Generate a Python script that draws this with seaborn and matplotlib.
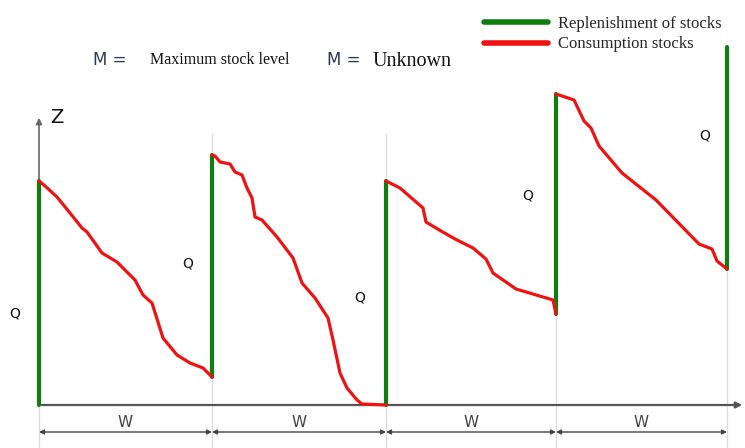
import pandas as pd
import matplotlib
matplotlib.use("Agg")
import matplotlib.pyplot as plt
import seaborn as sns

# moments of delivery (start of every period W) and stock just before / after it
delivery_t = [0, 173, 347, 517, 688]
stock_before = [0, 28, 0, 91, 136]
stock_after = [224, 250, 224, 311, 358]

# consumption curves between deliveries
use_t1 = [0, 6, 18, 31, 43, 48, 63, 78, 96, 104, 113, 124, 138, 151, 164, 173]
use_z1 = [224, 219, 208, 192, 177, 173, 152, 143, 125, 110, 102, 67, 50, 42, 37, 28]
use_t2 = [173, 176, 181, 191, 196, 203, 208, 213, 216, 223, 238, 254, 263, 276, 289, 294, 301, 308, 318, 323, 347]
use_z2 = [250, 249, 243, 241, 233, 230, 217, 207, 188, 185, 168, 147, 122, 107, 87, 65, 32, 17, 5, 1, 0]
use_t3 = [347, 361, 384, 387, 402, 416, 434, 447, 454, 477, 504, 514, 517]
use_z3 = [224, 217, 197, 183, 174, 166, 157, 146, 132, 116, 108, 105, 91]
use_t4 = [517, 535, 545, 552, 560, 583, 617, 660, 673, 678, 688]
use_z4 = [311, 305, 284, 277, 259, 232, 205, 161, 156, 144, 136]

period_label = "W"
order_label = "Q"
REPL = "Replenishment of stocks"
CONS = "Consumption stocks"

rows = []
for i, (t, a, b) in enumerate(zip(delivery_t, stock_before, stock_after)):
    rows.append({"t": t, "z": a, "kind": REPL, "seg": f"r{i}"})
    rows.append({"t": t, "z": b, "kind": REPL, "seg": f"r{i}"})
for i, (ts, zs) in enumerate([(use_t1, use_z1), (use_t2, use_z2), (use_t3, use_z3), (use_t4, use_z4)]):
    for t, z in zip(ts, zs):
        rows.append({"t": t, "z": z, "kind": CONS, "seg": f"c{i}"})
df = pd.DataFrame(rows)

sns.set_theme(style="white")
plt.rcParams["font.family"] = ["DejaVu Sans"]

fig = plt.figure(figsize=(7.45, 4.48), dpi=100)
ax = fig.add_axes([0, 0, 1, 1])
ax.set_xlim(-39, 706)
ax.set_ylim(-43, 405)
ax.set_axis_off()

grid_c = "#dcdcdc"
ax.vlines([173, 347], -43, 272, color=grid_c, lw=1, zorder=0)
ax.vlines([517, 688], -43, [311, 358], color=grid_c, lw=1, zorder=0)
ax.vlines([0], -43, 0, color=grid_c, lw=1, zorder=0)

# axes with arrows
ax.annotate("", xy=(0, 290), xytext=(0, 0),
            arrowprops=dict(arrowstyle="-|>", color="#666666", lw=1.2, mutation_scale=9))
ax.annotate("", xy=(706, 0), xytext=(0, 0),
            arrowprops=dict(arrowstyle="-|>", color="#555555", lw=1.6, mutation_scale=9))

green = "#0f7d0f"
red = "#f01212"
sns.lineplot(data=df, x="t", y="z", hue="kind", size="kind", units="seg",
             estimator=None, sort=False, hue_order=[REPL, CONS],
             palette={REPL: green, CONS: red}, sizes={REPL: 3.0, CONS: 2.3},
             solid_joinstyle="round", ax=ax, zorder=3)
ax.set_axis_off()

sns.move_legend(ax, loc="upper left", bbox_to_anchor=(476 / 745, 1 - 8 / 448),
                bbox_transform=fig.transFigure, frameon=False, title=None,
                handlelength=3.8, handletextpad=0.65, labelspacing=0.25,
                borderpad=0, prop={"family": "Liberation Serif", "size": 12})
for h in ax.get_legend().legend_handles:
    h.set_linewidth(4)

# period dimensions
for a, b in zip(delivery_t[:-1], delivery_t[1:]):
    ax.annotate("", xy=(a, -27), xytext=(b, -27),
                arrowprops=dict(arrowstyle="<|-|>", color="#444444", lw=1,
                                mutation_scale=7, shrinkA=0, shrinkB=0))
    ax.text((a + b) / 2, -17, period_label, ha="center", va="center",
            fontsize=11, color="#444444")

# order quantity labels
q_t = [-24, 149, 321, 489, 666]
q_z = [92, 142, 108, 210, 270]
for t, z in zip(q_t, q_z):
    ax.text(t, z, order_label, ha="center", va="center", fontsize=10, color="#111111")

ax.text(18, 288, "Z", ha="center", va="center", fontsize=14, color="#111111")

ax.text(54, 345, "M =", ha="left", va="center", fontsize=12, color="#2b3a55")
ax.text(111, 345, "Maximum stock level", ha="left", va="center", fontsize=11.5,
        family="Liberation Serif", color="#111111")
ax.text(288, 345, "M =", ha="left", va="center", fontsize=12, color="#2b3a55")
ax.text(334, 344, "Unknown", ha="left", va="center", fontsize=14.5,
        family="Liberation Serif", color="#111111")

fig.savefig("out.png", dpi=100)
